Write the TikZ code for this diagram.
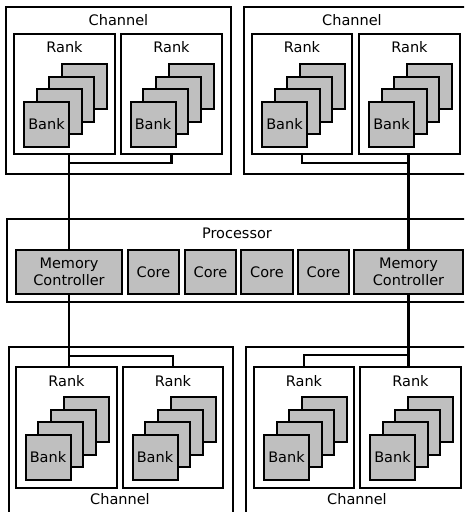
\documentclass[tikz,border=0pt]{standalone}
\usepackage{fontspec}
\setmainfont{DejaVu Sans}
\begin{document}
\begin{tikzpicture}[x=1pt,y=-1pt,
  chan/.style={draw,line width=2pt,inner sep=0pt},
  rankbox/.style={draw,fill=white,line width=2pt,inner sep=0pt},
  bankbox/.style={draw,fill=black!25,line width=2pt,inner sep=0pt},
  unit/.style={draw,fill=black!25,line width=2pt,inner sep=0pt,align=center},
  lbl/.style={inner sep=0pt},
  buswire/.style={draw=black,line width=2.2pt}]
\useasboundingbox (0,0) rectangle (464,512);
\clip (0,0) rectangle (464,512);
\fontsize{14.5}{17.5}\selectfont
\newcommand{\rbox}[7]{\node[#2,anchor=north west,minimum width={(#5-#3)*1pt},minimum height={(#6-#4)*1pt}] (#1) at (#3,#4) {#7};}
\newcommand{\bankstack}[3]{%
  \foreach \i in {3,2,1} {\node[bankbox,anchor=north west,minimum width=45pt,minimum height=45pt] (#1b\i) at ({#2+12.7*\i},{#3-12.7*\i}) {};}
  \node[bankbox,anchor=north west,minimum width=45pt,minimum height=45pt] (#1b0) at (#2,#3) {Bank};}
% ---- top left channel
\rbox{tlc}{chan}{5}{6}{230}{173}{}
\path (tlc.north) ++(0,14) node[lbl] (tlcl) {Channel};
\rbox{tlr1}{rankbox}{13}{33}{114}{153}{}
\rbox{tlr2}{rankbox}{120}{33}{221}{153}{}
\path (tlr1.north) ++(0,14) node[lbl] (tlr1l) {Rank};
\path (tlr2.north) ++(0,14) node[lbl] (tlr2l) {Rank};
\bankstack{tla}{23}{101}
\bankstack{tlb}{129.5}{101}
% ---- top right channel
\rbox{trc}{chan}{243}{6}{470}{173}{}
\node[lbl] (trcl) at (352,20) {Channel};
\rbox{trr1}{rankbox}{251}{33}{351}{153}{}
\rbox{trr2}{rankbox}{358}{33}{459}{153}{}
\path (trr1.north) ++(0,14) node[lbl] (trr1l) {Rank};
\path (trr2.north) ++(0,14) node[lbl] (trr2l) {Rank};
\bankstack{tra}{261}{101}
\bankstack{trb}{368}{101}
% ---- processor
\rbox{proc}{chan}{6}{218}{468}{301}{}
\node[lbl] (procl) at (237,233) {Processor};
\rbox{mcl}{unit}{15}{249}{121}{293}{Memory\\Controller}
\rbox{c1}{unit}{127}{249}{178}{293}{Core}
\rbox{c2}{unit}{184}{249}{235}{293}{Core}
\rbox{c3}{unit}{240}{249}{292}{293}{Core}
\rbox{c4}{unit}{297}{249}{348}{293}{Core}
\rbox{mcr}{unit}{353}{249}{462}{293}{Memory\\Controller}
% ---- bottom left channel
\rbox{blc}{chan}{8}{346}{232}{530}{}
\node[lbl] (blcl) at (120,499) {Channel};
\rbox{blr1}{rankbox}{15}{366}{116}{487}{}
\rbox{blr2}{rankbox}{122}{366}{222}{487}{}
\path (blr1.north) ++(0,15) node[lbl] (blr1l) {Rank};
\path (blr2.north) ++(0,15) node[lbl] (blr2l) {Rank};
\bankstack{bla}{24.5}{434}
\bankstack{blb}{131.5}{434}
% ---- bottom right channel
\rbox{brc}{chan}{245}{346}{470}{530}{}
\node[lbl] (brcl) at (357,499) {Channel};
\rbox{brr1}{rankbox}{253}{366}{353}{487}{}
\rbox{brr2}{rankbox}{359}{366}{460}{487}{}
\path (brr1.north) ++(0,15) node[lbl] (brr1l) {Rank};
\path (brr2.north) ++(0,15) node[lbl] (brr2l) {Rank};
\bankstack{bra}{263}{434}
\bankstack{brb}{369}{434}
% ---- buses
\coordinate (tlj) at (68,163);
\coordinate (trj) at (407.5,163);
\coordinate (blj) at (68,356);
\coordinate (brj) at (407.5,355);
\path[buswire] (tlr1.south -| mcl.north) -- (mcl.north);
\path[buswire] (tlr2.south) |- (tlj);
\path[buswire] (trr2.south -| mcr.north) -- (mcr.north);
\path[buswire] (trr1.south) |- (trj);
\path[buswire] (mcl.south) -- (blr1.north -| mcl.south);
\path[buswire] (blr2.north) |- (blj);
\path[buswire] (mcr.south) -- (brr2.north -| mcr.south);
\path[buswire] (brr1.north) |- (brj);
\end{tikzpicture}
\end{document}
